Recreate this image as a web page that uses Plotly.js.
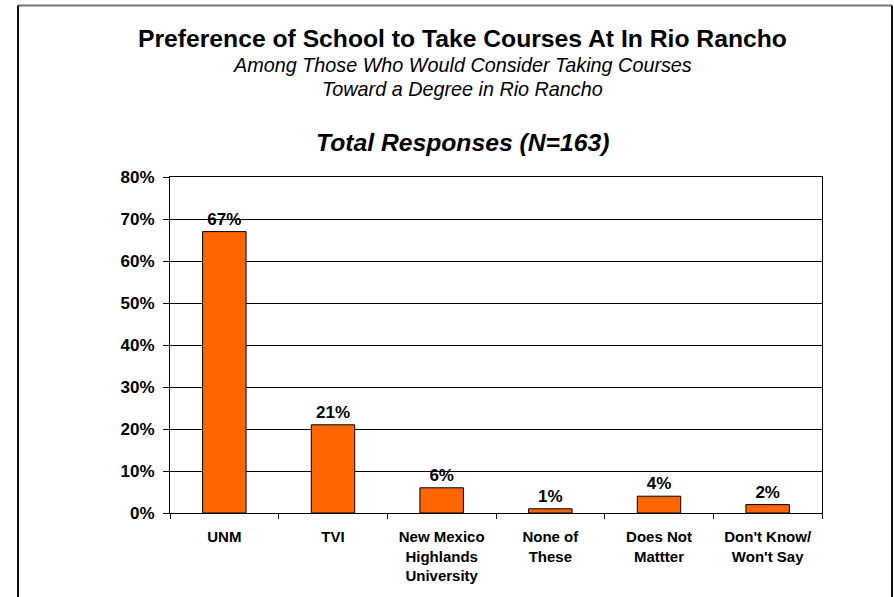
<!DOCTYPE html>
<html>
<head>
<meta charset="utf-8">
<script src="https://cdn.plot.ly/plotly-3.0.1.min.js"></script>
<style>
html,body{margin:0;padding:0;background:#fff;}
#chart{width:894px;height:597px;}
</style>
</head>
<body>
<div id="chart"></div>
<script>
const categories = ["UNM", "TVI", "New Mexico<br>Highlands<br>University", "None of<br>These", "Does Not<br>Mattter", "Don't Know/<br>Won't Say"];
const values = [67, 21, 6, 1, 4, 2];
const valueLabels = ["67%", "21%", "6%", "1%", "4%", "2%"];
const yTickVals = [0, 10, 20, 30, 40, 50, 60, 70, 80];
const yTickText = ["0%", "10%", "20%", "30%", "40%", "50%", "60%", "70%", "80%"];

const FONT = "Liberation Sans, Arial, sans-serif";
const L = 170, R = 822, T = 177, B = 513, W = 894, H = 597;
const pw = R - L, ph = B - T;
const px = x => (x - L) / pw;
const py = y => (B - y) / ph;

const trace = {
  type: "bar",
  x: categories,
  y: values,
  width: 0.4,
  marker: {color: "#FF6600", line: {color: "#000", width: 1}},
  text: valueLabels,
  textposition: "outside",
  textfont: {family: FONT, size: 17, color: "#000", weight: "bold"},
  cliponaxis: false,
  hoverinfo: "skip"
};

const layout = {
  width: W, height: H,
  margin: {l: L, r: W - R, t: T, b: H - B, pad: 0},
  paper_bgcolor: "#fff",
  plot_bgcolor: "#fff",
  showlegend: false,
  bargap: 0.6,
  font: {family: FONT, color: "#000"},
  xaxis: {
    type: "category",
    showline: true, linecolor: "#000", linewidth: 1, mirror: true,
    ticks: "outside", tickson: "boundaries", ticklen: 5, tickcolor: "#000",
    ticklabelstandoff: 10,
    tickfont: {family: FONT, size: 15, color: "#000", weight: "bold"},
    showgrid: false, fixedrange: true
  },
  yaxis: {
    range: [0, 80],
    tickvals: yTickVals, ticktext: yTickText,
    showline: true, linecolor: "#000", linewidth: 1, mirror: true,
    ticks: "outside", ticklen: 6, tickcolor: "#000",
    ticklabelstandoff: 5,
    tickfont: {family: FONT, size: 17, color: "#000", weight: "bold"},
    showgrid: true, gridcolor: "#000", gridwidth: 1,
    zeroline: false, fixedrange: true
  },
  annotations: [
    {text: "<b>Preference of School to Take Courses At In Rio Rancho</b>", xref: "paper", yref: "paper",
     x: px(462), y: py(39), xanchor: "center", yanchor: "middle", showarrow: false,
     font: {family: FONT, size: 24.7, color: "#000"}},
    {text: "<i>Among Those Who Would Consider Taking Courses</i>", xref: "paper", yref: "paper",
     x: px(462), y: py(65), xanchor: "center", yanchor: "middle", showarrow: false,
     font: {family: FONT, size: 19.8, color: "#000"}},
    {text: "<i>Toward a Degree in Rio Rancho</i>", xref: "paper", yref: "paper",
     x: px(462), y: py(89), xanchor: "center", yanchor: "middle", showarrow: false,
     font: {family: FONT, size: 19.8, color: "#000"}},
    {text: "<b><i>Total Responses (N=163)</i></b>", xref: "paper", yref: "paper",
     x: px(462), y: py(143), xanchor: "center", yanchor: "middle", showarrow: false,
     font: {family: FONT, size: 24.7, color: "#000"}}
  ],
  shapes: [
    {type: "line", xref: "paper", yref: "paper", x0: px(18), x1: px(892), y0: py(5.5), y1: py(5.5),
     line: {color: "#777", width: 2}},
    {type: "line", xref: "paper", yref: "paper", x0: px(18), x1: px(18), y0: py(5.5), y1: py(620),
     line: {color: "#111", width: 2}},
    {type: "line", xref: "paper", yref: "paper", x0: px(892), x1: px(892), y0: py(5.5), y1: py(620),
     line: {color: "#111", width: 2}}
  ]
};

Plotly.newPlot("chart", [trace], layout, {displayModeBar: false, staticPlot: true});
</script>
</body>
</html>
